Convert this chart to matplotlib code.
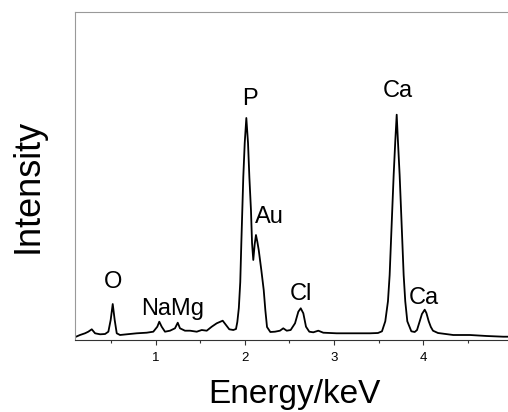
import numpy as np
import matplotlib
matplotlib.use("Agg")
import matplotlib.pyplot as plt

plt.rcParams['font.family'] = ['Liberation Sans', 'DejaVu Sans']

# EDX spectrum (energy in keV, intensity in arbitrary units)
energy = [0.107, 0.151, 0.207, 0.244, 0.283, 0.320, 0.376, 0.432, 0.469, 0.495,
          0.518, 0.540, 0.563, 0.600, 0.675, 0.787, 0.899, 0.973, 1.018, 1.040,
          1.067, 1.104, 1.160, 1.216, 1.247, 1.272, 1.328, 1.385, 1.460, 1.516,
          1.572, 1.628, 1.684, 1.751, 1.788, 1.825, 1.870, 1.900, 1.915, 1.932,
          1.948, 1.960, 1.971, 1.982, 1.998, 2.016, 2.035, 2.050, 2.068, 2.080,
          2.094, 2.110, 2.124, 2.140, 2.155, 2.184, 2.211, 2.229, 2.248, 2.285,
          2.337, 2.393, 2.430, 2.469, 2.513, 2.562, 2.599, 2.626, 2.655, 2.685,
          2.722, 2.767, 2.823, 2.879, 3.029, 3.215, 3.402, 3.492, 3.537, 3.574,
          3.604, 3.623, 3.638, 3.653, 3.668, 3.686, 3.702, 3.716, 3.735, 3.750,
          3.765, 3.780, 3.798, 3.821, 3.866, 3.904, 3.930, 3.960, 3.985, 4.016,
          4.035, 4.061, 4.085, 4.109, 4.165, 4.336, 4.524, 4.711, 4.897, 4.950]
intensity = [3.3, 5.0, 6.7, 8.3, 10.7, 6.7, 5.7, 6.0, 8.3, 20.0,
             36.0, 20.0, 6.7, 5.0, 5.7, 6.7, 7.3, 8.3, 13.3, 18.3,
             13.3, 8.3, 9.3, 11.7, 17.3, 11.7, 9.3, 9.3, 8.3, 10.0,
             9.3, 13.3, 16.7, 19.3, 15.0, 10.7, 10.0, 11.0, 18.0, 32.0,
             58.0, 97.0, 130.0, 163.0, 197.0, 222.0, 197.0, 163.0, 130.0, 97.0,
             80.0, 96.0, 105.0, 98.0, 90.0, 70.0, 50.0, 30.0, 13.0, 8.0,
             8.3, 9.3, 11.7, 9.3, 10.0, 16.7, 28.3, 31.7, 26.7, 13.3,
             8.3, 7.7, 9.3, 7.3, 6.7, 6.7, 6.7, 7.0, 8.7, 18.7,
             38.7, 65.0, 98.7, 132.0, 165.0, 198.7, 225.3, 198.7, 165.0, 132.0,
             98.7, 65.0, 38.7, 18.7, 8.7, 8.0, 10.0, 18.7, 26.0, 30.3,
             27.0, 18.7, 13.0, 9.3, 7.0, 5.0, 5.0, 4.0, 3.3, 3.3]

# peak labels: text, energy position, intensity position
peak_names = ['O', 'NaMg', 'P', 'Au', 'Cl', 'Ca', 'Ca']
peak_x = [0.525, 1.19, 2.057, 2.28, 2.63, 3.716, 4.01]
peak_y = [52, 25, 235, 117, 40, 243, 36]

fig = plt.figure(figsize=(5.08, 4.12), dpi=100)
ax = fig.add_axes([75 / 508, 72 / 412, 433 / 508, 328 / 412])

ax.plot(energy, intensity, color='black', linewidth=1.3)

for name, x, y in zip(peak_names, peak_x, peak_y):
    ax.text(x, y, name, fontsize=17, ha='center', va='baseline')

ax.set_xlim(0.095, 4.95)
ax.set_ylim(0, 328)
ax.set_xticks([1, 2, 3, 4])
ax.set_xticks([0.5, 1.5, 2.5, 3.5, 4.5], minor=True)
ax.set_yticks([])
ax.tick_params(axis='x', which='major', direction='out', length=3.6, width=0.8,
               labelsize=9.5, pad=5, color='#333333')
ax.tick_params(axis='x', which='minor', direction='out', length=2.4, width=0.8,
               color='#333333')

ax.spines['right'].set_visible(False)
ax.spines['bottom'].set_color('#333333')
ax.spines['left'].set_color('#999999')
ax.spines['top'].set_color('#999999')
for s in ax.spines.values():
    s.set_linewidth(0.8)

fig.text(28.5 / 508, 1 - 185.5 / 412, 'Intensity', fontsize=26, rotation=90,
         ha='center', va='center')
fig.text(294.4 / 508, 1 - 403.5 / 412, 'Energy/keV', fontsize=24,
         ha='center', va='baseline')

fig.savefig('out.png', dpi=100)
